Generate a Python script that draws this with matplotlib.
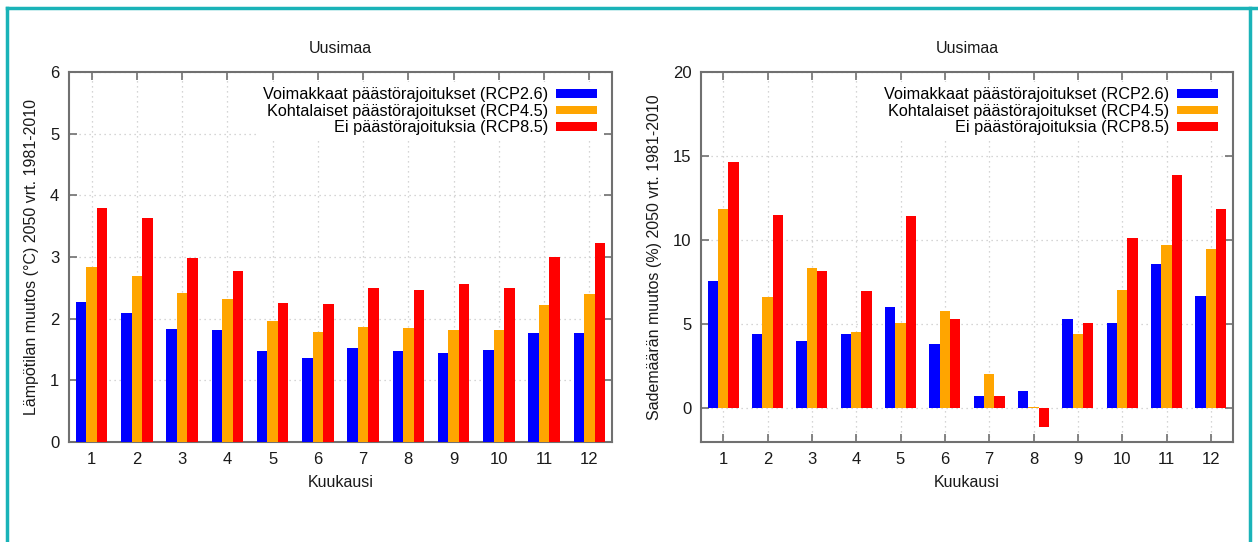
import matplotlib
matplotlib.use("Agg")
import matplotlib.pyplot as plt
import numpy as np
from matplotlib.lines import Line2D

months = [1, 2, 3, 4, 5, 6, 7, 8, 9, 10, 11, 12]
series_labels = ["Voimakkaat päästörajoitukset (RCP2.6)",
                 "Kohtalaiset päästörajoitukset (RCP4.5)",
                 "Ei päästörajoituksia (RCP8.5)"]
colors = ["#0000ff", "#ffa500", "#ff0000"]

temp_rcp26 = [2.27, 2.09, 1.83, 1.82, 1.47, 1.37, 1.52, 1.47, 1.44, 1.50, 1.77, 1.77]
temp_rcp45 = [2.83, 2.70, 2.42, 2.32, 1.96, 1.79, 1.87, 1.85, 1.81, 1.82, 2.22, 2.40]
temp_rcp85 = [3.79, 3.63, 2.98, 2.77, 2.25, 2.24, 2.49, 2.47, 2.57, 2.49, 3.00, 3.22]

prec_rcp26 = [7.6, 4.4, 4.0, 4.4, 6.0, 3.85, 0.75, 1.05, 5.3, 5.1, 8.6, 6.7]
prec_rcp45 = [11.85, 6.65, 8.35, 4.55, 5.1, 5.8, 2.05, 0.1, 4.4, 7.05, 9.7, 9.45]
prec_rcp85 = [14.65, 11.5, 8.15, 6.95, 11.45, 5.3, 0.75, -1.1, 5.1, 10.15, 13.85, 11.85]

title = "Uusimaa"
xlabel = "Kuukausi"
ylabel_temp = "Lämpötilan muutos (°C) 2050 vrt. 1981-2010"
ylabel_prec = "Sademäärän muutos (%) 2050 vrt. 1981-2010"

plt.rcParams['font.family'] = ['Liberation Sans', 'DejaVu Sans']

W, H = 1258, 542
fig = plt.figure(figsize=(W / 100, H / 100), dpi=100)

def px_axes(x0, y0, x1, y1):
    return fig.add_axes([x0 / W, 1 - y1 / H, (x1 - x0) / W, (y1 - y0) / H])

ax1 = px_axes(69, 72, 612, 442)
ax2 = px_axes(701, 72, 1233, 442)

bw = 0.233
x = np.array(months, dtype=float)

def draw(ax, data, ylim, yticks, ylabel):
    for i, (vals, c, lab) in enumerate(zip(data, colors, series_labels)):
        ax.bar(x + (i - 1) * bw, vals, width=bw, color=c, label=lab, zorder=3,
               linewidth=0)
    ax.set_xlim(0.5, 12.5)
    ax.set_ylim(*ylim)
    ax.set_xticks(months)
    ax.set_xticklabels([str(m) for m in months])
    ax.set_yticks(yticks)
    ax.grid(True, linestyle=(0, (1, 3)), color="#c8c8c8", linewidth=0.9, zorder=0)
    ax.tick_params(direction="in", top=True, right=True, length=6, width=1.2,
                   color="#707070", labelsize=12, labelcolor="#1a1a1a", pad=7)
    for s in ax.spines.values():
        s.set_color("#707070")
        s.set_linewidth(1.5)
    ax.set_title(title, fontsize=11.5, pad=14, color="#1a1a1a")
    ax.set_xlabel(xlabel, fontsize=11.5, labelpad=6, color="#1a1a1a")
    ax.set_ylabel(ylabel, fontsize=11.5, labelpad=8, color="#1a1a1a")
    leg = ax.legend(loc="upper right", markerfirst=False, frameon=True,
                    fontsize=11.7, handlelength=2.5, handleheight=0.45,
                    labelspacing=0.08, borderaxespad=0.6, handletextpad=0.5,
                    borderpad=0.35)
    leg.get_frame().set_facecolor("white")
    leg.get_frame().set_edgecolor("none")
    leg.get_frame().set_alpha(1.0)
    leg.set_zorder(5)

draw(ax1, [temp_rcp26, temp_rcp45, temp_rcp85], (0, 6), [0, 1, 2, 3, 4, 5, 6], ylabel_temp)
draw(ax2, [prec_rcp26, prec_rcp45, prec_rcp85], (-2, 20), [0, 5, 10, 15, 20], ylabel_prec)

teal = "#1ab3b8"
fig.add_artist(Line2D([7 / W, 7 / W], [0, 1 - 8 / H], color=teal, lw=2.5, transform=fig.transFigure))
fig.add_artist(Line2D([1250 / W, 1250 / W], [0, 1 - 8 / H], color=teal, lw=2.5, transform=fig.transFigure))
fig.add_artist(Line2D([7 / W, 1 - 0 / W], [1 - 8 / H, 1 - 8 / H], color=teal, lw=2.5, transform=fig.transFigure))

fig.savefig("out.png", dpi=100)
